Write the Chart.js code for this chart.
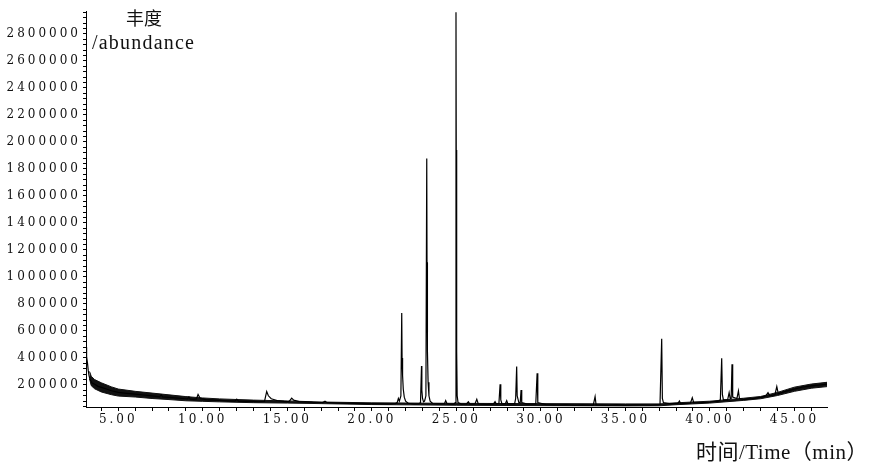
<!DOCTYPE html>
<html>
<head>
<meta charset="utf-8">
<script src="https://cdn.jsdelivr.net/npm/chart.js@4.4.1/dist/chart.umd.min.js"></script>
<style>
html,body{margin:0;padding:0;background:#fff;}
#wrap{width:886px;height:472px;position:relative;}
</style>
</head>
<body>
<div id="wrap"><canvas id="c" width="886" height="472"></canvas></div>
<script>
// Retention time (min) and abundance of the chromatogram trace
const times = [
3.09,3.11,3.14,3.18,3.22,3.27,3.33,3.45,3.6,3.8,4.0,4.3,4.6,5.0,5.5,6.0,6.5,7.0,7.45,7.54,7.62,8.0,8.5,9.0,9.1,9.18,9.25,9.45,9.62,9.72,9.85,10.2,10.88,11.5,11.9,12.01,12.12,12.85,13.3,13.65,13.78,13.88,14.05,14.4,14.8,15.1,15.26,15.38,15.7,16.5,17.1,17.23,17.35,18,19,19.7,20.5,21.0,21.4,21.5,21.57,21.63,21.72,21.77,21.79,21.82,21.86,21.92,22.0,22.15,22.5,22.8,22.88,22.94,22.96,23.0,23.06,23.12,23.2,23.25,23.265,23.29,23.33,23.38,23.45,23.6,23.9,24.3,24.37,24.45,24.6,24.85,24.94,24.98,24.995,25.02,25.05,25.1,25.3,25.6,25.71,25.8,26.1,26.21,26.3,26.8,27.2,27.29,27.36,27.52,27.59,27.63,27.7,27.9,27.98,28.05,28.45,28.51,28.57,28.6,28.7,28.78,28.83,28.87,29.2,29.7,29.78,29.82,30.3,31,31.5,32,32.5,33.1,33.21,33.27,34,34.5,35,35.5,36,36.5,37.05,37.15,37.19,37.25,37.6,38.1,38.2,38.27,38.85,38.96,39.05,39.5,40.0,40.5,40.62,40.7,40.74,40.8,41.05,41.14,41.2,41.26,41.31,41.35,41.6,41.69,41.75,42.0,42.5,43.0,43.3,43.44,43.55,43.85,43.96,44.05,44.5,45.0,45.5,46.0,46.5,46.93
];
const abundance = [
480000,460000,410000,360000,310000,270000,240000,215000,205000,190000,182000,170000,157000,145000,138000,132000,126000,120000,113000,128000,112000,108000,103000,98000,97000,112000,95000,94000,97000,130000,100000,92000,86000,82000,80000,95000,79000,78000,76000,78000,152000,120000,98000,85000,78000,77000,103000,88000,77000,72000,70000,80000,69000,66000,64000,62000,60000,59000,62000,70000,100000,80000,120000,734000,400000,270000,170000,110000,80000,65000,58000,60000,70000,340000,160000,100000,75000,80000,120000,1877000,1110000,450000,220000,120000,80000,63000,60000,62000,85000,62000,58000,58000,70000,2960000,1940000,450000,120000,70000,58000,60000,76000,58000,60000,94000,60000,56000,60000,76000,60000,65000,205000,90000,60000,62000,84000,60000,62000,100000,336000,120000,70000,70000,163000,70000,58000,60000,287000,70000,55000,52000,55000,50000,52000,50000,114000,52000,50000,54000,50000,52000,52000,50000,55000,542000,100000,70000,62000,62000,82000,62000,65000,106000,68000,70000,74000,80000,90000,398000,130000,90000,90000,143000,100000,100000,354000,110000,100000,156000,100000,94000,99000,108000,118000,143000,120000,128000,188000,135000,155000,170000,185000,193000,200000,207000
];
// Noise band (upper and lower edge of the thick baseline)
const noiseTimes = [3.3,3.4,3.6,4.0,4.6,5.0,6.0,7.0,8.0,9.0,10.0,11.0,13.0,15.0,17.0,20.0,25.0,30.0,35.0,37.0,38.0,40.0,42.0,43.0,44.0,45.0,46.0,46.93];
const noiseUpper = [300000,265000,240000,216000,186000,170000,153000,140000,127000,114000,104000,97000,88000,82000,74000,68000,64000,62000,60000,60000,68000,80000,102000,115000,145000,184000,207000,220000];
const noiseLower = [245000,195000,172000,148000,128000,118000,111000,100000,92000,83000,79000,75000,69000,66000,62000,55000,50000,47000,45000,46000,54000,66000,86000,98000,122000,153000,176000,188000];
// Tick labels
const xLabelValues = [5,10,15,20,25,30,35,40,45];
const yLabelValues = [200000,400000,600000,800000,1000000,1200000,1400000,1600000,1800000,2000000,2200000,2400000,2600000,2800000];
const yMinorStep = 40000;
const yTitleLines = ['丰度','/abundance'];
const xTitle = '时间/Time（min）';

const trace = times.map((t,i)=>({x:t,y:abundance[i]}));
const up = noiseTimes.map((t,i)=>({x:t,y:noiseUpper[i]}));
const lo = noiseTimes.map((t,i)=>({x:t,y:noiseLower[i]}));

const textPlugin = {
  id:'textPlugin',
  beforeDraw(chart){ chart.ctx.letterSpacing='3px'; },
  beforeDatasetsDraw(chart){ chart.ctx.letterSpacing='0px'; },
  afterDraw(chart){
    const ctx = chart.ctx;
    const a = chart.chartArea;
    ctx.save();
    ctx.fillStyle = '#111';
    ctx.textBaseline = 'alphabetic';
    ctx.letterSpacing = '0px';
    ctx.font = '18px "Noto Sans CJK SC", "Liberation Serif", serif';
    ctx.textAlign = 'center';
    ctx.fillText(yTitleLines[0], a.left + 58, 25);
    ctx.letterSpacing = '1.2px';
    ctx.font = '20px "Liberation Serif", serif';
    ctx.textAlign = 'left';
    ctx.fillText(yTitleLines[1], a.left + 6, 49);
    ctx.letterSpacing = '0.5px';
    ctx.font = '21px "Liberation Serif", "Noto Sans CJK SC", serif';
    ctx.textAlign = 'right';
    ctx.fillText(xTitle, 868, 459);
    ctx.restore();
  }
};

new Chart(document.getElementById('c'), {
  type:'line',
  data:{
    datasets:[
      {data:up, borderColor:'#111', borderWidth:1, backgroundColor:'#111', fill:'+1', pointRadius:0, tension:0, order:2},
      {data:lo, borderColor:'#111', borderWidth:1, pointRadius:0, fill:false, tension:0, order:2},
      {data:trace, borderColor:'#000', borderWidth:1.2, pointRadius:0, fill:false, tension:0, order:1}
    ]
  },
  options:{
    responsive:false,
    animation:false,
    events:[],
    layout:{padding:{left:0,right:59,top:11,bottom:0}},
    plugins:{legend:{display:false}, tooltip:{enabled:false}, title:{display:false}},
    scales:{
      x:{
        type:'linear', min:3.09, max:46.93,
        afterFit(s){ s.height = 65; },
        border:{display:true,color:'#000',width:1},
        grid:{display:true, drawOnChartArea:false, drawTicks:true, tickLength:4, color:'#000'},
        ticks:{
          stepSize:1, includeBounds:false, autoSkip:false, maxRotation:0, padding:2,
          color:'#111', font:{family:'"DejaVu Serif", serif', size:12},
          callback(v){
            const r = Math.round(v);
            return (Math.abs(v-r)<1e-6 && xLabelValues.includes(r)) ? r.toFixed(2) : '';
          }
        }
      },
      y:{
        type:'linear', min:37000, max:2970000,
        afterFit(s){ s.width = 86; },
        afterBuildTicks(s){
          const t = [];
          for (let v = yMinorStep; v <= s.max; v += yMinorStep) t.push({value:v});
          s.ticks = t;
        },
        border:{display:true,color:'#000',width:1},
        grid:{display:true, drawOnChartArea:false, drawTicks:true, tickLength:3, color:'#000'},
        ticks:{
          autoSkip:false, padding:2,
          color:'#111', font:{family:'"DejaVu Serif", serif', size:12},
          callback(v){
            const r = Math.round(v);
            return yLabelValues.includes(r) ? String(r) : '';
          }
        }
      }
    }
  },
  plugins:[textPlugin]
});
</script>
</body>
</html>
